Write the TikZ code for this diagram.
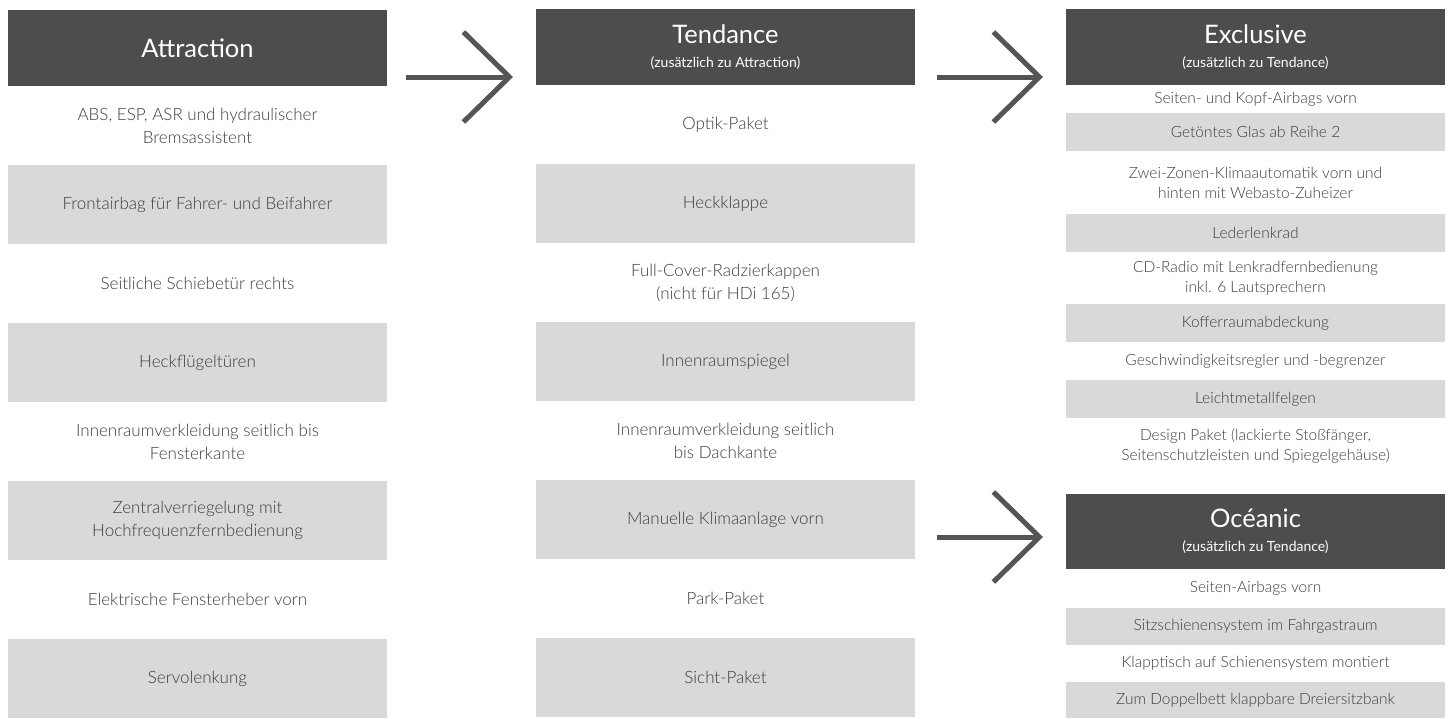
\documentclass[tikz,border=0pt]{standalone}
\usepackage{fontspec}
\setmainfont{Lato Light}
\newfontfamily\kopffont{Lato}
\usepackage{tikz}
\usetikzlibrary{arrows.meta}

\begin{document}
\begin{tikzpicture}[x=1pt,y=1pt,yscale=-1,
    kopf/.style={fill={rgb, 255:red, 77; green, 77; blue, 77}, text=white, minimum width=379pt, inner sep=0pt, outer sep=0pt, align=center, font=\kopffont\fontsize{14}{24}\selectfont},
    zeile/.style={minimum width=379pt, inner sep=0pt, outer sep=0pt, align=center, text={rgb, 255:red, 60; green, 60; blue, 60}, font=\fontsize{17}{23}\selectfont},
    zeileklein/.style={zeile, font=\fontsize{15.5}{20}\selectfont},
    grau/.style={fill={rgb, 255:red, 217; green, 217; blue, 217}},
    pfeil/.style={draw={rgb, 255:red, 85; green, 85; blue, 85}, line width=5pt, line join=miter, -{Straight Barb[length=46pt,width=90pt]}}]
\useasboundingbox (0,0) rectangle (1452,718);
%Spalte Attraction
\node [kopf, minimum height=76pt] (att) at (197.5,48) {\fontsize{25.5}{24}\selectfont Attraction};
\node [zeile, minimum height=79pt] (att1) at (197.5,125.5) {ABS, ESP, ASR und hydraulischer\\Bremsassistent};
\node [zeile, grau, minimum height=79pt] (att2) at (197.5,204.5) {Frontairbag für Fahrer- und Beifahrer};
\node [zeile, minimum height=79pt] (att3) at (197.5,283.5) {Seitliche Schiebetür rechts};
\node [zeile, grau, minimum height=79pt] (att4) at (197.5,362.5) {Heckflügeltüren};
\node [zeile, minimum height=79pt] (att5) at (197.5,441.5) {Innenraumverkleidung seitlich bis\\Fensterkante};
\node [zeile, grau, minimum height=79pt] (att6) at (197.5,520.5) {Zentralverriegelung mit\\Hochfrequenzfernbedienung};
\node [zeile, minimum height=79pt] (att7) at (197.5,599.5) {Elektrische Fensterheber vorn};
\node [zeile, grau, minimum height=79pt] (att8) at (197.5,678.5) {Servolenkung};
%Spalte Tendance
\node [kopf, minimum height=76pt] (ten) at (725.5,47) {{\fontsize{25.5}{24}\selectfont Tendance}\\(zusätzlich zu Attraction)};
\node [zeile, minimum height=79pt] (ten1) at (725.5,124.5) {Optik-Paket};
\node [zeile, grau, minimum height=79pt] (ten2) at (725.5,203.5) {Heckklappe};
\node [zeile, minimum height=79pt] (ten3) at (725.5,282.5) {Full-Cover-Radzierkappen\\(nicht für HDi 165)};
\node [zeile, grau, minimum height=79pt] (ten4) at (725.5,361.5) {Innenraumspiegel};
\node [zeile, minimum height=79pt] (ten5) at (725.5,440.5) {Innenraumverkleidung seitlich\\bis Dachkante};
\node [zeile, grau, minimum height=79pt] (ten6) at (725.5,519.5) {Manuelle Klimaanlage vorn};
\node [zeile, minimum height=79pt] (ten7) at (725.5,598.5) {Park-Paket};
\node [zeile, grau, minimum height=79pt] (ten8) at (725.5,677.5) {Sicht-Paket};
%Spalte Exclusive
\node [kopf, minimum height=76pt] (exc) at (1255.5,47) {{\fontsize{25.5}{24}\selectfont Exclusive}\\(zusätzlich zu Tendance)};
\node [zeileklein, minimum height=28pt] (exc1) at (1255.5,99) {Seiten- und Kopf-Airbags vorn};
\node [zeileklein, grau, minimum height=38pt] (exc2) at (1255.5,132) {Getöntes Glas ab Reihe 2};
\node [zeileklein, minimum height=63pt] (exc3) at (1255.5,182.5) {Zwei-Zonen-Klimaautomatik vorn und\\hinten mit Webasto-Zuheizer};
\node [zeileklein, grau, minimum height=38pt] (exc4) at (1255.5,233) {Lederlenkrad};
\node [zeileklein, minimum height=52pt] (exc5) at (1255.5,278) {CD-Radio mit Lenkradfernbedienung\\inkl. 6 Lautsprechern};
\node [zeileklein, grau, minimum height=38pt] (exc6) at (1255.5,323) {Kofferraumabdeckung};
\node [zeileklein, minimum height=38pt] (exc7) at (1255.5,361) {Geschwindigkeitsregler und -begrenzer};
\node [zeileklein, grau, minimum height=38pt] (exc8) at (1255.5,399) {Leichtmetallfelgen};
\node [zeileklein, minimum height=56pt] (exc9) at (1255.5,446) {Design Paket (lackierte Stoßfänger,\\Seitenschutzleisten und Spiegelgehäuse)};
%Spalte Oceanic
\node [kopf, minimum height=75pt] (oce) at (1255.5,531.5) {{\fontsize{25.5}{24}\selectfont Océanic}\\(zusätzlich zu Tendance)};
\node [zeileklein, minimum height=39pt] (oce1) at (1255.5,588.5) {Seiten-Airbags vorn};
\node [zeileklein, grau, minimum height=37pt] (oce2) at (1255.5,626.5) {Sitzschienensystem im Fahrgastraum};
\node [zeileklein, minimum height=37pt] (oce3) at (1255.5,663.5) {Klapptisch auf Schienensystem montiert};
\node [zeileklein, grau, minimum height=36pt] (oce4) at (1255.5,700) {Zum Doppelbett klappbare Dreiersitzbank};
%Pfeile
\coordinate (p1a) at (406,77);
\coordinate (p1b) at (513,77);
\coordinate (p2a) at (937,77);
\coordinate (p2b) at (1043,77);
\coordinate (p3a) at (937,537);
\coordinate (p3b) at (1043,537);
\draw [pfeil] (p1a) -- (p1b);
\draw [pfeil] (p2a) -- (p2b);
\draw [pfeil] (p3a) -- (p3b);
\end{tikzpicture}
\end{document}
